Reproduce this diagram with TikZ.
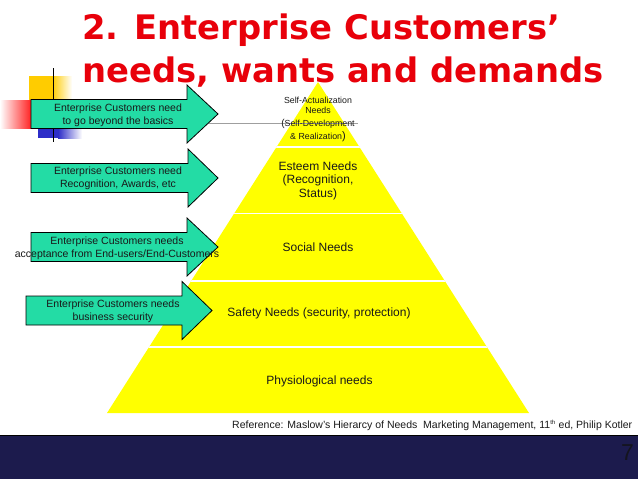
\documentclass[tikz,border=0pt]{standalone}
\usepackage{fontspec}
\setmainfont{Liberation Sans}
\newfontfamily\titlefont{DejaVu Sans}
\definecolor{titlered}{RGB}{232,0,10}
\definecolor{pyryellow}{RGB}{255,255,0}
\definecolor{arrteal}{RGB}{35,220,165}
\definecolor{navy}{RGB}{28,27,77}
\definecolor{decoyellow}{RGB}{255,204,0}
\definecolor{decored}{RGB}{255,20,20}
\definecolor{decoblue}{RGB}{45,45,200}
\definecolor{txt}{RGB}{25,25,25}
\tikzset{
  titletext/.style={anchor=base west,inner sep=0pt,text=titlered,font=\titlefont\bfseries\fontsize{33.8}{40}\selectfont},
  arrowbox/.style={fill=arrteal,draw=black,line width=0.8pt,line join=miter},
  arrtext/.style={inner sep=0pt,align=center,text=txt,font=\fontsize{10.5}{12.8}\selectfont},
  pyrtext/.style={inner sep=0pt,align=center,text=txt,font=\fontsize{12}{13.6}\selectfont},
  septline/.style={draw=white,line width=1.8pt},
}
\newcommand\entarrow[4]{%
  \draw[arrowbox] ({#1},{#2-14.5}) -- ({#3},{#2-14.5}) -- ({#3},{#2-29}) -- ({#4},{#2})
    -- ({#3},{#2+29}) -- ({#3},{#2+14.5}) -- ({#1},{#2+14.5}) -- cycle;}
\begin{document}
\begin{tikzpicture}[x=1pt,y=-1pt]
\useasboundingbox (0,0) rectangle (638,479);
\fill[white] (0,0) rectangle (638,479);
% pyramid
\coordinate (apex) at (318,82);
\coordinate (bl) at (107,413);
\coordinate (br) at (529,413);
\fill[pyryellow] (apex) -- (br) -- (bl) -- cycle;
\begin{scope}
\clip (apex) -- (br) -- (bl) -- cycle;
\foreach \yy in {147,213.5,281,347} \draw[septline] (100,\yy) -- (540,\yy);
\end{scope}
% template decoration
\draw[gray!75,line width=1.6pt] (20,123.5) -- (358,123.5);
\fill[decoyellow] (29,76) rectangle (52,100);
\shade[left color=decoyellow,right color=white] (52,76) rectangle (72,100);
\shade[left color=white,right color=decored] (0,100) rectangle (33,128);
\fill[decoblue] (38,128) rectangle (58,138);
\shade[left color=decoblue,right color=white] (58,128) rectangle (82,138);
\draw[black,line width=1pt] (53,68) -- (53,142);
% title
\node[titletext] (title1) at (82,39) {2. Enterprise Customers’};
\node[titletext] (title2) at (82,82) {needs, wants and demands};
% arrows
\entarrow{31}{114}{187}{218}
\entarrow{31}{178}{188}{218}
\entarrow{31}{247}{187}{218}
\entarrow{26}{310.5}{182}{212}
\node[arrtext] (a1) at (118,115) {Enterprise Customers need\\to go beyond the basics};
\node[arrtext] (a2) at (118,178.5) {Enterprise Customers need\\Recognition, Awards, etc};
\node[arrtext] (a3) at (117,248) {Enterprise Customers needs\\acceptance from End-users/End-Customers};
\node[arrtext] (a4) at (113,311.5) {Enterprise Customers needs\\business security};
% pyramid texts
\node[inner sep=0pt,align=center,text=txt,font=\fontsize{8.8}{10.3}\selectfont] (selfact) at (318,119.5)
  {Self-Actualization\\Needs\\[2.6pt]{\fontsize{10}{10}\selectfont(}Self-Development\\[3.3pt]\& Realization{\fontsize{11}{10}\selectfont)}};
\node[pyrtext] (esteem) at (318,180.5) {Esteem Needs\\(Recognition,\\Status)};
\node[pyrtext] (social) at (318,247) {Social Needs};
\node[pyrtext] (safety) at (319,313) {Safety Needs (security, protection)};
\node[pyrtext] (physio) at (319.5,381) {Physiological needs};
% reference
\node[anchor=west,inner sep=0pt,text=txt,font=\fontsize{10.5}{12}\selectfont] (ref) at (232,425)
  {Reference: Maslow’s Hierarcy of Needs\ \ Marketing Management, 11\textsuperscript{\fontsize{6}{6}\selectfont th} ed, Philip Kotler};
% bottom bar
\fill[navy] (0,435) rectangle (638,479);
\draw[black,line width=0.8pt] (0,435) -- (638,435);
\node[anchor=base east,inner sep=0pt,text={rgb,255:red,20;green,20;blue,30},font=\fontsize{23}{23}\selectfont] (pagenum) at (634,460) {7};
\end{tikzpicture}
\end{document}
